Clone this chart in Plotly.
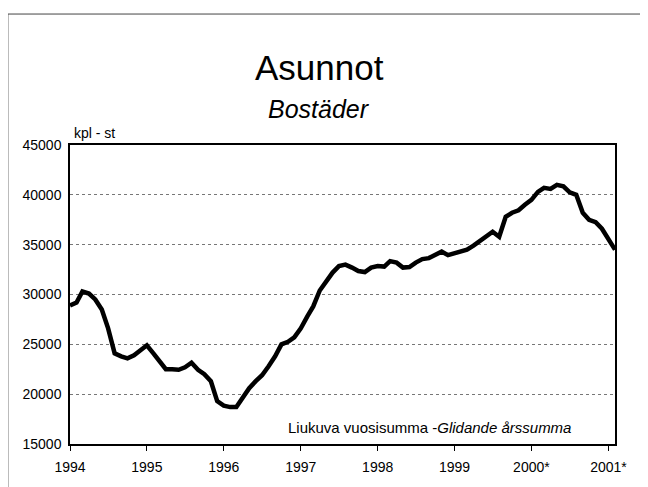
import plotly.graph_objects as go
import pandas as pd

# moving annual sum of dwellings, monthly from Jan 1994
months = pd.date_range(start="1994-01-01", periods=86, freq="MS")
dwellings = [
    28900, 29200, 30300, 30100, 29500, 28500, 26600, 24100, 23800, 23600, 23900, 24400,
    24900, 24100, 23300, 22500, 22500, 22450, 22700, 23150, 22450, 22000, 21300, 19300,
    18850, 18700, 18700, 19600, 20600, 21300, 21900, 22800, 23800, 25000, 25250, 25700,
    26600, 27800, 28800, 30400, 31350, 32200, 32850, 33000, 32700, 32350, 32250, 32700,
    32850, 32800, 33350, 33200, 32700, 32750, 33200, 33550, 33650, 34000, 34300, 33950,
    34100, 34300, 34500, 34900, 35400, 35900, 36300, 35800, 37800, 38200, 38450, 39000,
    39500, 40300, 40700, 40600, 41000, 40850, 40250, 40000, 38200, 37500, 37250, 36600,
    35500, 34500,
]
tick_dates = ["1994-01-01", "1995-01-01", "1996-01-01", "1997-01-01",
              "1998-01-01", "1999-01-01", "2000-01-01", "2001-01-01"]
tick_labels = ["1994", "1995", "1996", "1997", "1998", "1999", "2000*", "2001*"]

FONT = "Liberation Sans, Arial, sans-serif"

fig = go.Figure()
fig.add_trace(go.Scatter(
    x=months, y=dwellings,
    mode="lines",
    line=dict(color="black", width=4.5),
    hoverinfo="x+y"
))

# the page body has an 8px margin, so the figure is 8px smaller than the window
fig.update_layout(
    width=640, height=479,
    margin=dict(l=62, r=33, t=137, b=43),
    paper_bgcolor="white",
    plot_bgcolor="white",
    showlegend=False,
    font=dict(family=FONT, size=14, color="black"),
    xaxis=dict(
        type="date",
        range=["1994-01-01", "2001-02-01"],
        tickvals=tick_dates,
        ticktext=tick_labels,
        ticks="outside", ticklen=5, tickcolor="black",
        ticklabelstandoff=4,
        showgrid=False,
        showline=True, linecolor="black", linewidth=1.5, mirror=True,
        tickfont=dict(size=14),
    ),
    yaxis=dict(
        range=[15000, 45000],
        dtick=5000,
        tickformat="d",
        ticks="",
        ticklabelstandoff=4,
        showgrid=True, gridcolor="#777777", gridwidth=1, griddash="dot",
        showline=True, linecolor="black", linewidth=1.5, mirror=True,
        tickfont=dict(size=14),
        zeroline=False,
    ),
)

fig.add_annotation(text="Asunnot", xref="paper", yref="paper",
                   x=0.457, y=1.26, xanchor="center", yanchor="middle",
                   showarrow=False, font=dict(size=35, family=FONT))
fig.add_annotation(text="<i>Bostäder</i>", xref="paper", yref="paper",
                   x=0.457, y=1.12, xanchor="center", yanchor="middle",
                   showarrow=False, font=dict(size=25, family=FONT))
fig.add_annotation(text="kpl - st", xref="paper", yref="paper",
                   x=0.004, y=1.04, xanchor="left", yanchor="middle",
                   showarrow=False, font=dict(size=14, family=FONT))
fig.add_annotation(text="Liukuva vuosisumma -<i>Glidande årssumma</i>",
                   xref="paper", yref="paper",
                   x=0.923, y=0.054, xanchor="right", yanchor="middle",
                   showarrow=False, font=dict(size=15, family=FONT))

# thin frame round the page, top and left edges
fig.add_shape(type="line", xref="paper", yref="paper",
              x0=-0.114, x1=1.07, y0=1.438, y1=1.438,
              line=dict(color="#444444", width=1))
fig.add_shape(type="line", xref="paper", yref="paper",
              x0=-0.114, x1=-0.114, y0=1.438, y1=-0.15,
              line=dict(color="#444444", width=1))

fig.write_html("out.html")
